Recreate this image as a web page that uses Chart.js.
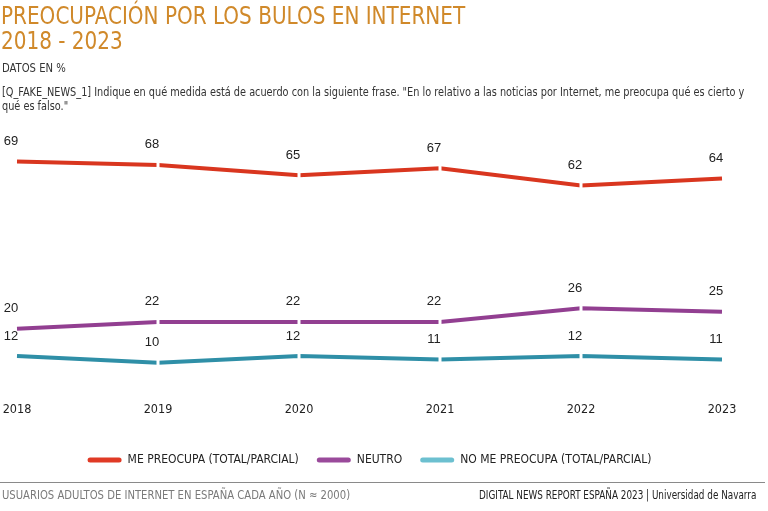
<!DOCTYPE html>
<html>
<head>
<meta charset="utf-8">
<script src="https://cdn.jsdelivr.net/npm/chart.js@4.4.0/dist/chart.umd.min.js"></script>
<style>
  html, body { margin: 0; padding: 0; background: #fff; }
  #wrap { position: relative; width: 768px; height: 511px; overflow: hidden; font-family: "DejaVu Sans Condensed", "Liberation Sans", sans-serif; }
  #c { position: absolute; left: 0; top: 0; }
  .t { position: absolute; white-space: nowrap; transform-origin: 0 0; transform: scaleX(0.86); }
  #title { left: 1px; top: 3px; font-size: 25px; line-height: 25px; color: #d0892a; transform: scaleX(0.89); }
  #unit { left: 2px; top: 60px; font-size: 13px; color: #333; }
  #q { left: 2px; top: 85px; width: 868px; white-space: normal; font-size: 12.5px; line-height: 14px; color: #333; transform: scaleX(0.866); }
  #rule { position: absolute; left: 0; top: 482px; width: 765px; height: 0; border-top: 1.5px solid #8a8a8a; }
  #foot1 { left: 2px; top: 487px; font-size: 13px; color: #7a7a7a; }
  #foot2 { left: 479px; top: 488px; font-size: 11.5px; color: #222; transform: scaleX(0.855); }
</style>
</head>
<body>
<div id="wrap">
  <canvas id="c" width="768" height="511"></canvas>
  <div class="t" id="title">PREOCUPACIÓN POR LOS BULOS EN INTERNET<br>2018 - 2023</div>
  <div class="t" id="unit">DATOS EN %</div>
  <div class="t" id="q">[Q_FAKE_NEWS_1] Indique en qué medida está de acuerdo con la siguiente frase. "En lo relativo a las noticias por Internet, me preocupa qué es cierto y qué es falso."</div>
  <div id="rule"></div>
  <div class="t" id="foot1">USUARIOS ADULTOS DE INTERNET EN ESPAÑA CADA AÑO (N ≈ 2000)</div>
  <div class="t" id="foot2">DIGITAL NEWS REPORT ESPAÑA 2023 | Universidad de Navarra</div>
</div>
<script>
const years = ["2018", "2019", "2020", "2021", "2022", "2023"];
const seriesNames = ["ME PREOCUPA (TOTAL/PARCIAL)", "NEUTRO", "NO ME PREOCUPA (TOTAL/PARCIAL)"];
const mePreocupa = [69, 68, 65, 67, 62, 64];
const neutro = [20, 22, 22, 22, 26, 25];
const noMePreocupa = [12, 10, 12, 11, 12, 11];

const lineColors = ["#d9361f", "#923f91", "#2f8fa7"];
const legendColors = ["#e03a25", "#9a4a9b", "#6cc0d0"];

const gapRadius = (ctx) => (ctx.dataIndex === 0 || ctx.dataIndex === years.length - 1) ? 0 : 4.5;

function ds(label, data, i) {
  return {
    label: label,
    data: data,
    borderColor: lineColors[i],
    backgroundColor: lineColors[i],
    borderWidth: 4,
    tension: 0,
    pointStyle: 'line',
    pointRotation: 90,
    pointRadius: gapRadius,
    pointHoverRadius: gapRadius,
    pointBorderColor: '#ffffff',
    pointBorderWidth: 3,
    pointBackgroundColor: '#ffffff'
  };
}

const valueLabels = {
  id: 'valueLabels',
  afterDatasetsDraw(chart) {
    const ctx = chart.ctx;
    ctx.save();
    ctx.font = '13px "Liberation Sans", Arial, sans-serif';
    ctx.fillStyle = '#222';
    ctx.textAlign = 'center';
    ctx.textBaseline = 'middle';
    chart.data.datasets.forEach((d, di) => {
      const meta = chart.getDatasetMeta(di);
      meta.data.forEach((pt, i) => {
        ctx.fillText(String(d.data[i]), pt.x - 6, pt.y - 20);
      });
    });
    ctx.restore();
  }
};

new Chart(document.getElementById('c'), {
  type: 'line',
  data: {
    labels: years,
    datasets: [
      ds(seriesNames[0], mePreocupa, 0),
      ds(seriesNames[1], neutro, 1),
      ds(seriesNames[2], noMePreocupa, 2)
    ]
  },
  options: {
    responsive: false,
    animation: false,
    events: [],
    layout: { padding: { left: 17, right: 46, top: 141, bottom: 35 } },
    scales: {
      x: {
        offset: false,
        grid: { display: false, drawTicks: false },
        border: { display: false },
        ticks: { padding: 5, color: '#222', font: { family: '"DejaVu Sans Condensed", sans-serif', size: 12.5 } },
        afterFit(scale) { scale.height = 39; scale.paddingLeft = 0; scale.paddingRight = 0; }
      },
      y: { display: false, min: 0, max: 75 }
    },
    plugins: {
      tooltip: { enabled: false },
      legend: {
        position: 'bottom',
        labels: {
          boxWidth: 34,
          boxHeight: 5,
          padding: 18,
          useBorderRadius: true,
          borderRadius: 2.5,
          color: '#222',
          font: { family: '"DejaVu Sans Condensed", sans-serif', size: 12 },
          generateLabels(chart) {
            return chart.data.datasets.map((d, i) => ({
              text: d.label,
              fillStyle: legendColors[i],
              strokeStyle: legendColors[i],
              lineWidth: 0,
              fontColor: '#222',
              borderRadius: 2.5,
              datasetIndex: i
            }));
          }
        }
      }
    }
  },
  plugins: [valueLabels]
});
</script>
</body>
</html>
